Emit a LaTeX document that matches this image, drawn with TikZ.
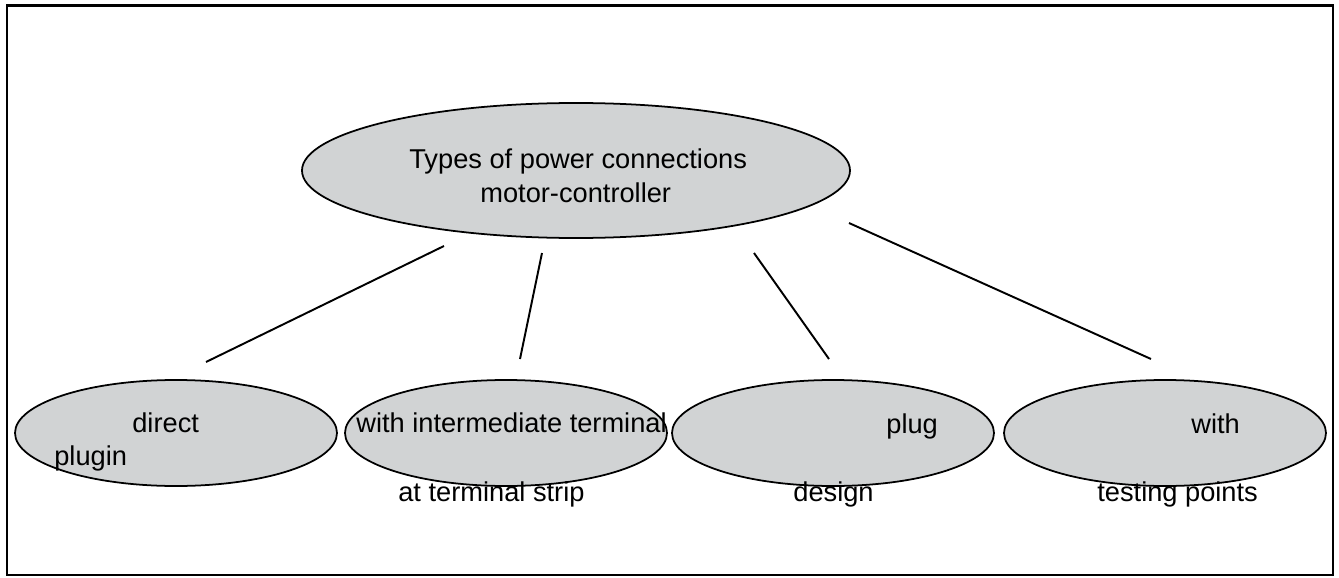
\documentclass[tikz,border=0pt]{standalone}
\usepackage{fontspec}
\setmainfont{Liberation Sans}
\usepackage{xcolor}
\usepackage{tikz}
\usetikzlibrary{shapes.geometric}
\definecolor{bubblegrey}{RGB}{209,211,212}

\begin{document}
\begin{tikzpicture}[
	x=0.2mm, y=-0.2mm,
	every node/.style={font=\fontsize{15.5}{18}\selectfont},
	bubble/.style={draw, ellipse, fill=bubblegrey, line width=1pt, inner sep=0pt, minimum width=6.44cm, minimum height=2.12cm},
	caption/.style={anchor=base west, inner sep=0pt},
	link/.style={draw, line width=1.1pt}
	]
	
	\useasboundingbox (0,0) rectangle (1339,578);
	\draw[line width=1.5pt] (7,5.5) rectangle (1333,575);
	
	% Define nodes
	\node[bubble, minimum width=10.96cm, minimum height=2.7cm] (types) at (576,170.5) {};
	\node[bubble] (direct) at (176,433) {};
	\node[bubble] (inter) at (506,433) {};
	\node[bubble] (plug) at (833,433) {};
	\node[bubble] (test) at (1165,433) {};
	
	% Texts
	\node[caption] (typesA) at (409,168) {Types of power connections};
	\node[caption] (typesB) at (480,202) {motor-controller};
	\node[caption] (directA) at (132,432) {direct};
	\node[caption] (directB) at (54,465) {plugin};
	\node[caption] (interA) at (356,432) {with intermediate terminal};
	\node[caption] (interB) at (398,501) {at terminal strip};
	\node[caption] (plugA) at (886,433) {plug};
	\node[caption] (plugB) at (793,501) {design};
	\node[caption] (testA) at (1191,433) {with};
	\node[caption] (testB) at (1097,501) {testing points};
	
	% Line ends
	\coordinate (types-1) at (444,246);
	\coordinate (types-2) at (542,253);
	\coordinate (types-3) at (754,253);
	\coordinate (types-4) at (849,223);
	\coordinate (direct-top) at (206,362);
	\coordinate (inter-top) at (520,359);
	\coordinate (plug-top) at (829,359);
	\coordinate (test-top) at (1151,359);
	
	% Draw edges
	\path [link] (types-1) -- (direct-top);
	\path [link] (types-2) -- (inter-top);
	\path [link] (types-3) -- (plug-top);
	\path [link] (types-4) -- (test-top);
	
\end{tikzpicture}
\end{document}
